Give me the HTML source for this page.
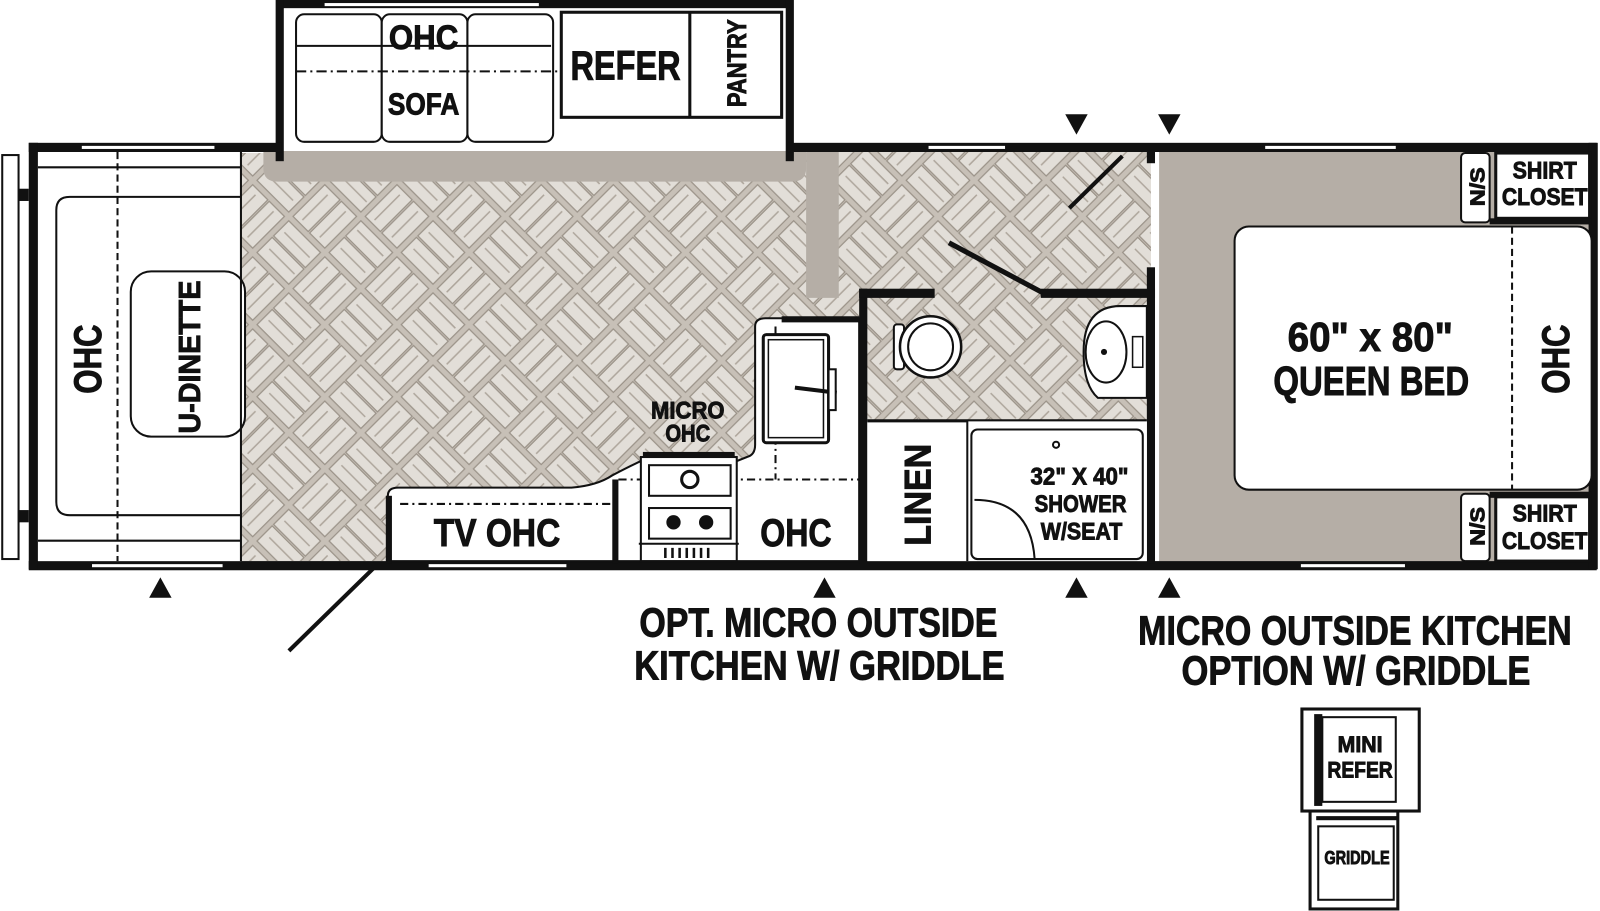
<!DOCTYPE html>
<html><head><meta charset="utf-8"><style>
html,body{margin:0;padding:0;background:#fff;}
svg{display:block;}
text{font-family:"Liberation Sans Narrow","Liberation Sans",sans-serif;font-weight:bold;fill:#111;stroke:#111;stroke-width:0.9;}
</style></head><body>
<svg width="1600" height="911" viewBox="0 0 1568 893" xmlns="http://www.w3.org/2000/svg">
<defs>
<pattern id="fl" width="100" height="100" patternUnits="userSpaceOnUse" patternTransform="rotate(45)">
<rect width="100" height="100" fill="#c7c0b7"/>
<g fill="#e2ded8" stroke="#9a9288" stroke-width="1.2">
<rect x="3" y="3" width="44" height="21"/><rect x="3" y="26" width="44" height="21"/>
<rect x="53" y="3" width="21" height="44"/><rect x="76" y="3" width="21" height="44"/>
<rect x="3" y="53" width="21" height="44"/><rect x="26" y="53" width="21" height="44"/>
<rect x="53" y="53" width="44" height="21"/><rect x="53" y="76" width="44" height="21"/>
</g>
<g stroke="#aea69c" stroke-width="1.5" fill="none">
<path d="M7 12h36M8 36h34M62 8v35M86 7v36M12 58v35M36 57v36M58 64h35M59 86h35"/>
</g>
</pattern>
</defs>

<!-- floors -->
<rect x="236" y="150" width="606" height="400" fill="url(#fl)"/>
<rect x="822" y="148" width="306" height="265" fill="url(#fl)"/>
<!-- gray floors -->
<path d="M258 148 H790 V165 Q790 178 776 178 H272 Q258 178 258 165 Z" fill="#b5aea6"/>
<rect x="790" y="148" width="32" height="144" fill="#b5aea6"/>
<rect x="1136" y="148" width="424" height="402" fill="#b5aea6"/>

<!-- slideout -->
<rect x="276" y="0" width="500" height="8" fill="#111"/>
<rect x="270" y="0" width="8" height="158" fill="#111"/>
<rect x="770" y="0" width="8" height="158" fill="#111"/>
<rect x="318" y="3" width="210" height="3" fill="#fff"/>
<g fill="#fff" stroke="#111" stroke-width="2">
<rect x="290" y="14" width="84" height="125" rx="8"/>
<rect x="374" y="14" width="84" height="125" rx="8"/>
<rect x="458" y="14" width="84" height="125" rx="8"/>
<path d="M290 45 H540" fill="none"/>
</g>
<path d="M290 70 H548" stroke="#111" stroke-width="2" stroke-dasharray="10 4 2 4"/>
<rect x="550" y="12" width="216" height="103" fill="#fff" stroke="#111" stroke-width="3"/>
<line x1="676" y1="12" x2="676" y2="115" stroke="#111" stroke-width="3"/>

<!-- main body walls -->
<rect x="28" y="140" width="248" height="9" fill="#111"/>
<rect x="772" y="140" width="793" height="9" fill="#111"/>
<rect x="28" y="550" width="1537" height="9" fill="#111"/>
<rect x="28" y="140" width="9" height="418" fill="#111"/>
<rect x="1557" y="140" width="9" height="418" fill="#111"/>
<!-- windows -->
<g fill="#fff">
<rect x="80" y="143" width="130" height="3"/><rect x="910" y="143" width="75" height="3"/><rect x="1240" y="143" width="128" height="3"/>
<rect x="90" y="553" width="128" height="3"/><rect x="420" y="553" width="135" height="3"/><rect x="1275" y="553" width="102" height="3"/>
</g>
<!-- hitch rails -->
<rect x="2" y="152" width="16" height="396" fill="#fff" stroke="#111" stroke-width="2"/>
<rect x="18" y="185" width="10" height="12" fill="#111"/><rect x="18" y="500" width="10" height="12" fill="#111"/>

<!-- dinette -->
<rect x="37" y="149" width="199" height="401" fill="#fff"/>
<path d="M37 164 H236 M37 530 H236" stroke="#111" stroke-width="2"/>
<path d="M68 193 H236 M68 505 H236 M68 193 Q55 193 55 206 V492 Q55 505 68 505" fill="none" stroke="#111" stroke-width="2"/>
<line x1="115" y1="149" x2="115" y2="550" stroke="#111" stroke-width="2" stroke-dasharray="7 4"/>
<rect x="128" y="266" width="112" height="162" rx="20" fill="#fff" stroke="#111" stroke-width="2"/>
<line x1="236" y1="149" x2="236" y2="550" stroke="#111" stroke-width="2"/>

<!-- kitchen counters -->
<path d="M380 550 V486 Q380 478 390 478 H560 Q585 476 600 466 Q615 458 628 452 H722 L732 448 Q740 446 740 436 V320 Q740 312 750 312 H842 V550 Z" fill="#fff" stroke="#111" stroke-width="2"/>
<rect x="378" y="486" width="6" height="66" fill="#111"/>
<rect x="600" y="470" width="6" height="82" fill="#111"/>
<path d="M392 494 H600" stroke="#111" stroke-width="2" stroke-dasharray="8 4 2 4"/>
<path d="M606 470 H842 M760 320 V470" stroke="#111" stroke-width="2" stroke-dasharray="8 4 2 4"/>
<rect x="748" y="328" width="64" height="106" rx="3" fill="#fff" stroke="#111" stroke-width="3"/>
<rect x="753" y="333" width="54" height="96" fill="none" stroke="#111" stroke-width="1.5"/>
<line x1="779" y1="380" x2="820" y2="385" stroke="#111" stroke-width="4"/>
<rect x="812" y="362" width="7" height="40" fill="#fff" stroke="#111" stroke-width="2"/>
<rect x="766" y="310" width="76" height="6" fill="#111"/>
<!-- stove -->
<rect x="628" y="448" width="94" height="102" fill="#fff" stroke="#111" stroke-width="2"/>
<rect x="630" y="443" width="90" height="5" fill="#111"/>
<rect x="636" y="456" width="80" height="30" fill="none" stroke="#111" stroke-width="2"/>
<rect x="636" y="498" width="80" height="30" fill="none" stroke="#111" stroke-width="2"/>
<circle cx="676" cy="470" r="8" fill="none" stroke="#111" stroke-width="3"/>
<circle cx="660" cy="512" r="7" fill="#111"/><circle cx="692" cy="512" r="7" fill="#111"/>
<path d="M652 537 v10 M659 537 v10 M666 537 v10 M673 537 v10 M680 537 v10 M687 537 v10 M694 537 v10" stroke="#111" stroke-width="2.5"/>
<line x1="626" y1="533" x2="724" y2="533" stroke="#111" stroke-width="2"/>

<!-- bathroom -->
<rect x="842" y="283" width="8" height="270" fill="#111"/>
<rect x="842" y="283" width="74" height="9" fill="#111"/>
<rect x="1020" y="283" width="112" height="9" fill="#111"/>
<line x1="930" y1="238" x2="1022" y2="287" stroke="#111" stroke-width="5"/>
<line x1="1048" y1="204" x2="1100" y2="153" stroke="#111" stroke-width="4"/>
<rect x="1124" y="148" width="8" height="12" fill="#111"/>
<rect x="1124" y="262" width="8" height="290" fill="#111"/>
<rect x="850" y="412" width="274" height="138" fill="#fff"/>
<path d="M850 413 H948 V550" fill="none" stroke="#111" stroke-width="2"/>
<rect x="952" y="421" width="168" height="127" rx="6" fill="#fff" stroke="#111" stroke-width="2"/>
<path d="M955 490 Q1010 490 1014 548" fill="none" stroke="#111" stroke-width="2"/>
<circle cx="1035" cy="436" r="3" fill="none" stroke="#111" stroke-width="2"/>
<line x1="850" y1="412" x2="1124" y2="412" stroke="#111" stroke-width="2"/>
<!-- toilet -->
<rect x="876" y="318" width="10" height="44" rx="3" fill="#fff" stroke="#111" stroke-width="2"/>
<ellipse cx="912" cy="340" rx="30" ry="30" fill="#fff" stroke="#111" stroke-width="2.5"/>
<ellipse cx="912" cy="340" rx="22" ry="23" fill="none" stroke="#111" stroke-width="2"/>
<!-- sink -->
<path d="M1124 300 H1098 Q1062 300 1062 345 Q1062 378 1076 390 H1124 Z" fill="#fff" stroke="#111" stroke-width="2"/>
<ellipse cx="1084" cy="345" rx="20" ry="30" fill="none" stroke="#111" stroke-width="2"/>
<circle cx="1082" cy="345" r="3" fill="#111"/>
<rect x="1110" y="330" width="10" height="30" fill="#fff" stroke="#111" stroke-width="1.5"/>

<!-- bedroom -->
<rect x="1210" y="222" width="350" height="258" rx="14" fill="#fff" stroke="#111" stroke-width="2"/>
<line x1="1482" y1="222" x2="1482" y2="480" stroke="#111" stroke-width="2" stroke-dasharray="7 4"/>
<rect x="1432" y="150" width="28" height="68" rx="4" fill="#fff" stroke="#111" stroke-width="2"/>
<rect x="1466" y="150" width="92" height="64" fill="#fff" stroke="#111" stroke-width="3"/>
<rect x="1460" y="214" width="100" height="6" fill="#111"/>
<rect x="1432" y="484" width="28" height="66" rx="4" fill="#fff" stroke="#111" stroke-width="2"/>
<rect x="1466" y="487" width="92" height="63" fill="#fff" stroke="#111" stroke-width="3"/>
<rect x="1460" y="482" width="100" height="6" fill="#111"/>

<!-- door -->
<line x1="368" y1="555" x2="283" y2="638" stroke="#111" stroke-width="4"/>

<!-- triangles -->
<g fill="#111">
<path d="M157 566 L146 586 H168 Z"/><path d="M808 566 L797 586 H819 Z"/>
<path d="M1055 566 L1044 586 H1066 Z"/><path d="M1146 566 L1135 586 H1157 Z"/>
<path d="M1044 112 H1066 L1055 132 Z"/><path d="M1135 112 H1157 L1146 132 Z"/>
</g>

<!-- outside kitchen -->
<g stroke="#111" fill="#fff">
<rect x="1276" y="695" width="115" height="100" stroke-width="3"/>
<rect x="1296" y="703" width="72" height="83" stroke-width="2"/>
<rect x="1288" y="700" width="8" height="90" fill="#111" stroke="none"/>
<rect x="1284" y="795" width="86" height="96" stroke-width="3"/>
<rect x="1292" y="810" width="74" height="72" stroke-width="2"/>
<rect x="1290" y="800" width="80" height="4" fill="#111" stroke="none"/>
</g>

<!-- labels -->
<text x="415" y="48" font-size="34" text-anchor="middle" textLength="68" lengthAdjust="spacingAndGlyphs">OHC</text>
<text x="415" y="112" font-size="30" text-anchor="middle" textLength="70" lengthAdjust="spacingAndGlyphs">SOFA</text>
<text x="613" y="78" font-size="40" text-anchor="middle" textLength="108" lengthAdjust="spacingAndGlyphs">REFER</text>
<text transform="translate(731,62) rotate(-90)" font-size="26" text-anchor="middle" textLength="86" lengthAdjust="spacingAndGlyphs">PANTRY</text>
<text transform="translate(99,352) rotate(-90)" font-size="38" text-anchor="middle" textLength="68" lengthAdjust="spacingAndGlyphs">OHC</text>
<text transform="translate(196,350) rotate(-90)" font-size="30" text-anchor="middle" textLength="150" lengthAdjust="spacingAndGlyphs">U-DINETTE</text>
<text x="487" y="535" font-size="38" text-anchor="middle" textLength="124" lengthAdjust="spacingAndGlyphs">TV OHC</text>
<text x="674" y="410" font-size="24" text-anchor="middle" textLength="72" lengthAdjust="spacingAndGlyphs">MICRO</text>
<text x="674" y="433" font-size="24" text-anchor="middle" textLength="44" lengthAdjust="spacingAndGlyphs">OHC</text>
<text x="780" y="535" font-size="38" text-anchor="middle" textLength="70" lengthAdjust="spacingAndGlyphs">OHC</text>
<text transform="translate(912,485) rotate(-90)" font-size="36" text-anchor="middle" textLength="100" lengthAdjust="spacingAndGlyphs">LINEN</text>
<text x="1058" y="475" font-size="24" text-anchor="middle" textLength="96" lengthAdjust="spacingAndGlyphs">32" X 40"</text>
<text x="1059" y="502" font-size="24" text-anchor="middle" textLength="90" lengthAdjust="spacingAndGlyphs">SHOWER</text>
<text x="1060" y="529" font-size="24" text-anchor="middle" textLength="80" lengthAdjust="spacingAndGlyphs">W/SEAT</text>
<text x="1343" y="344" font-size="40" text-anchor="middle" textLength="162" lengthAdjust="spacingAndGlyphs">60" x 80"</text>
<text x="1344" y="387" font-size="40" text-anchor="middle" textLength="192" lengthAdjust="spacingAndGlyphs">QUEEN BED</text>
<text transform="translate(1538,352) rotate(-90)" font-size="38" text-anchor="middle" textLength="68" lengthAdjust="spacingAndGlyphs">OHC</text>
<text transform="translate(1455,183) rotate(-90)" font-size="20" text-anchor="middle" textLength="38" lengthAdjust="spacingAndGlyphs">N/S</text>
<text x="1514" y="175" font-size="24" text-anchor="middle" textLength="63" lengthAdjust="spacingAndGlyphs">SHIRT</text>
<text x="1514" y="201" font-size="24" text-anchor="middle" textLength="84" lengthAdjust="spacingAndGlyphs">CLOSET</text>
<text transform="translate(1455,516) rotate(-90)" font-size="20" text-anchor="middle" textLength="38" lengthAdjust="spacingAndGlyphs">N/S</text>
<text x="1514" y="511" font-size="24" text-anchor="middle" textLength="63" lengthAdjust="spacingAndGlyphs">SHIRT</text>
<text x="1514" y="538" font-size="24" text-anchor="middle" textLength="84" lengthAdjust="spacingAndGlyphs">CLOSET</text>
<text x="802" y="624" font-size="40" text-anchor="middle" textLength="351" lengthAdjust="spacingAndGlyphs">OPT. MICRO OUTSIDE</text>
<text x="803" y="666" font-size="40" text-anchor="middle" textLength="363" lengthAdjust="spacingAndGlyphs">KITCHEN W/ GRIDDLE</text>
<text x="1328" y="632" font-size="40" text-anchor="middle" textLength="425" lengthAdjust="spacingAndGlyphs">MICRO OUTSIDE KITCHEN</text>
<text x="1329" y="671" font-size="40" text-anchor="middle" textLength="342" lengthAdjust="spacingAndGlyphs">OPTION W/ GRIDDLE</text>
<text x="1333" y="737" font-size="22" text-anchor="middle" textLength="44" lengthAdjust="spacingAndGlyphs">MINI</text>
<text x="1333" y="762" font-size="22" text-anchor="middle" textLength="64" lengthAdjust="spacingAndGlyphs">REFER</text>
<text x="1330" y="847" font-size="18" text-anchor="middle" textLength="64" lengthAdjust="spacingAndGlyphs">GRIDDLE</text>
</svg>
</body></html>
